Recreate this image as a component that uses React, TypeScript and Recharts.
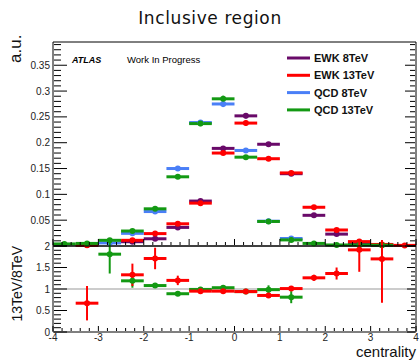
import React from "react";
import { ComposedChart, Scatter, ErrorBar, XAxis, YAxis, ReferenceLine } from "recharts";

// bins of width 0.5 between -4 and 4
const binCenters = [-3.75, -3.25, -2.75, -2.25, -1.75, -1.25, -0.75, -0.25, 0.25, 0.75, 1.25, 1.75, 2.25, 2.75, 3.25, 3.75];
const HALF_BIN = 0.25;

// normalised centrality distributions (a.u.), null = empty bin
const ewk8 = [null, 0.002, null, 0.0083, 0.014, 0.036, 0.087, 0.189, 0.252, 0.197, 0.14, 0.0594, 0.023, 0.0045, 0.0018, null];
const ewk8Err = [null, 0.001, null, 0.002, 0.002, 0.003, 0.003, 0.004, 0.005, 0.004, 0.003, 0.002, 0.002, 0.001, 0.001, null];
const ewk13 = [null, 0.0013, null, 0.011, 0.024, 0.043, 0.083, 0.18, 0.238, 0.169, 0.1415, 0.075, 0.031, 0.0085, 0.003, 0.0012];
const ewk13Err = [null, 0.001, null, 0.002, 0.002, 0.003, 0.003, 0.004, 0.005, 0.004, 0.003, 0.002, 0.002, 0.001, 0.001, 0.001];
const qcd8 = [null, null, 0.006, 0.0245, 0.0667, 0.15, 0.239, 0.275, 0.185, 0.048, 0.0145, null, null, null, null, null];
const qcd8Err = [null, null, 0.001, 0.002, 0.003, 0.004, 0.005, 0.006, 0.004, 0.002, 0.001, null, null, null, null, null];
const qcd13 = [0.004, 0.005, 0.011, 0.029, 0.072, 0.134, 0.237, 0.285, 0.172, 0.0475, 0.0118, 0.005, 0.002, 0.002, 0.0015, null];
const qcd13Err = [0.001, 0.001, 0.002, 0.003, 0.004, 0.004, 0.005, 0.006, 0.004, 0.002, 0.001, 0.001, 0.001, 0.001, 0.001, null];

// 13 TeV / 8 TeV ratios
const ewkRatio = [null, 0.67, null, 1.33, 1.71, 1.2, 0.95, 0.95, 0.94, 0.85, 1.01, 1.26, 1.36, 1.91, 1.7, null];
const ewkRatioErr = [null, 0.4, null, 0.26, 0.25, 0.11, 0.03, 0.03, 0.02, 0.04, 0.04, 0.07, 0.14, 0.51, 1.02, null];
const qcdRatio = [null, null, 1.81, 1.19, 1.08, 0.89, 0.99, 1.03, 0.94, 0.985, 0.81, null, null, null, null, null];
const qcdRatioErr = [null, null, 0.45, 0.16, 0.05, 0.02, 0.02, 0.02, 0.02, 0.1, 0.14, null, null, null, null, null];

const xTicks = Array.from({ length: 41 }, (_, i) => +(-4 + i * 0.2).toFixed(1));
const yTicks = Array.from({ length: 40 }, (_, i) => +(i * 0.01).toFixed(2));
const ratioTicks = Array.from({ length: 21 }, (_, i) => +(i * 0.1).toFixed(1));

const PURPLE = "#690a69";
const RED = "#ff0000";
const BLUE = "#4a7ff7";
const GREEN = "#139913";

const series = [
  { name: "EWK 8TeV", color: PURPLE, vals: ewk8, errs: ewk8Err },
  { name: "EWK 13TeV", color: RED, vals: ewk13, errs: ewk13Err },
  { name: "QCD 8TeV", color: BLUE, vals: qcd8, errs: qcd8Err },
  { name: "QCD 13TeV", color: GREEN, vals: qcd13, errs: qcd13Err },
];

const ratios = [
  { name: "QCD", color: GREEN, vals: qcdRatio, errs: qcdRatioErr },
  { name: "EWK", color: RED, vals: ewkRatio, errs: ewkRatioErr },
];

const FONT = "'Liberation Sans', Arial, sans-serif";

type Pt = { x: number; y: number; ex: number; ey: number };

function toPoints(vals: (number | null)[], errs: (number | null)[]): Pt[] {
  const out: Pt[] = [];
  vals.forEach((v, i) => {
    if (v != null) out.push({ x: binCenters[i], y: v, ex: HALF_BIN, ey: errs[i] ?? 0 });
  });
  return out;
}

const isMajor = (v: number, step: number) => Math.abs(v / step - Math.round(v / step)) < 1e-6;
const fmt = (v: number) => String(+v.toFixed(2));

// ROOT style ticks, drawn inwards from the frame. Axes are 1px wide, so
// p.x / p.y sit one pixel off the frame on the outer side.
function vTick(side: "left" | "right", step: number, major: number, minor: number, labels: boolean, zeroLabel = false) {
  return (p: any) => {
    const v = p.payload.value;
    const big = isMajor(v, step);
    const len = big ? major : minor;
    const x0 = side === "left" ? p.x + 1 : p.x - 1;
    const dir = side === "left" ? 1 : -1;
    const showLabel = labels && big && (v > 0 || zeroLabel);
    return (
      <g>
        <line x1={x0} x2={x0 + dir * len} y1={p.y} y2={p.y} stroke="#000" strokeWidth={1} />
        {showLabel && (
          <text x={x0 - 4} y={p.y + 3.5} textAnchor="end" fontSize={10} fontFamily={FONT} fill="#222" stroke="none">
            {fmt(v)}
          </text>
        )}
      </g>
    );
  };
}

function hTick(side: "top" | "bottom", major: number, minor: number, labels: boolean) {
  return (p: any) => {
    const v = p.payload.value;
    const big = isMajor(v, 1);
    const len = big ? major : minor;
    const y0 = side === "bottom" ? p.y - 1 : p.y + 1;
    const dir = side === "bottom" ? -1 : 1;
    return (
      <g>
        <line x1={p.x} x2={p.x} y1={y0} y2={y0 + dir * len} stroke="#000" strokeWidth={1} />
        {labels && big && (
          <text x={p.x} y={y0 + 10} textAnchor="middle" fontSize={10} fontFamily={FONT} fill="#222" stroke="none">
            {fmt(v)}
          </text>
        )}
      </g>
    );
  };
}

const dot = (color: string) => (p: any) => <circle cx={p.cx} cy={p.cy} r={3} fill={color} />;

const axisCommon = {
  type: "number" as const,
  interval: 0 as const,
  tickSize: 0,
  tickMargin: 0,
  tickLine: false,
  axisLine: { stroke: "#000", strokeWidth: 1 },
};

export default function App() {
  return (
    <div style={{ position: "absolute", left: 0, top: 0, width: 420, height: 360, background: "#fff" }}>
      {/* distributions */}
      <div style={{ position: "absolute", left: 0, top: 0 }}>
        <ComposedChart width={420} height={251} margin={{ top: 41, right: 3, bottom: 4, left: 52 }}>
          <XAxis {...axisCommon} xAxisId={0} dataKey="x" domain={[-4, 4]} ticks={xTicks} height={1} tick={hTick("bottom", 6, 3, false)} />
          <XAxis {...axisCommon} xAxisId="top" orientation="top" domain={[-4, 4]} allowDataOverflow ticks={xTicks} height={1} tick={hTick("top", 6, 3, false)} />
          <YAxis {...axisCommon} yAxisId={0} dataKey="y" domain={[0, 0.395]} ticks={yTicks} width={1} tick={vTick("left", 0.05, 13, 7, true)} />
          <YAxis {...axisCommon} yAxisId="r" orientation="right" domain={[0, 0.395]} allowDataOverflow ticks={yTicks} width={1} tick={vTick("right", 0.05, 10, 5, false)} />
          {series.map((s) => (
            <Scatter
              key={s.name}
              name={s.name}
              data={toPoints(s.vals, s.errs)}
              fill={s.color}
              shape={dot(s.color)}
              isAnimationActive={false}
            >
              <ErrorBar dataKey="ex" direction="x" width={0} stroke={s.color} strokeWidth={3} />
              <ErrorBar dataKey="ey" direction="y" width={0} stroke={s.color} strokeWidth={2} />
            </Scatter>
          ))}
        </ComposedChart>
      </div>

      {/* ratio panel */}
      <div style={{ position: "absolute", left: 0, top: 240 }}>
        <ComposedChart width={420} height={120} margin={{ top: 5, right: 3, bottom: 8, left: 52 }}>
          <XAxis {...axisCommon} xAxisId={0} dataKey="x" domain={[-4, 4]} ticks={xTicks} height={20} tick={hTick("bottom", 5, 3, true)} />
          <XAxis {...axisCommon} xAxisId="top" orientation="top" domain={[-4, 4]} allowDataOverflow ticks={xTicks} height={1} tick={hTick("top", 5, 3, false)} />
          <YAxis {...axisCommon} yAxisId={0} dataKey="y" domain={[0, 2]} allowDataOverflow ticks={ratioTicks} width={1} tick={vTick("left", 0.5, 13, 7, true, true)} />
          <YAxis {...axisCommon} yAxisId="r" orientation="right" domain={[0, 2]} allowDataOverflow ticks={ratioTicks} width={1} tick={vTick("right", 0.5, 8, 4, false)} />
          <ReferenceLine y={1} stroke="#999" strokeWidth={1} />
          {ratios.map((s) => (
            <Scatter
              key={s.name}
              name={s.name}
              data={toPoints(s.vals, s.errs)}
              fill={s.color}
              shape={dot(s.color)}
              isAnimationActive={false}
            >
              <ErrorBar dataKey="ex" direction="x" width={0} stroke={s.color} strokeWidth={3} />
              <ErrorBar dataKey="ey" direction="y" width={0} stroke={s.color} strokeWidth={2} />
            </Scatter>
          ))}
        </ComposedChart>
      </div>

      {/* titles, labels and legend */}
      <svg width={420} height={360} style={{ position: "absolute", left: 0, top: 0, pointerEvents: "none" }}>
        <text x={210} y={24} textAnchor="middle" fontSize={17} letterSpacing={0.6} fontFamily="'DejaVu Sans', sans-serif" fill="#111">
          Inclusive region
        </text>
        <text transform="translate(21,63) rotate(-90)" textAnchor="start" fontSize={17} fontFamily={FONT} fill="#111">
          a.u.
        </text>
        <text transform="translate(22,246) rotate(-90)" textAnchor="end" fontSize={14} fontFamily={FONT} fill="#111">
          13TeV/8TeV
        </text>
        <text x={416} y={357} textAnchor="end" fontSize={15} fontFamily={FONT} fill="#111">
          centrality
        </text>
        <text x={72} y={62.5} fontSize={9} fontWeight="bold" fontStyle="italic" fontFamily={FONT} fill="#000">
          ATLAS
        </text>
        <text x={127} y={62.5} fontSize={9.5} fontFamily={FONT} fill="#000">
          Work In Progress
        </text>
        {series.map((s, i) => {
          const cy = 58 + i * 17.3;
          return (
            <g key={s.name}>
              <line x1={287} x2={310} y1={cy} y2={cy} stroke={s.color} strokeWidth={3} />
              <text x={314} y={cy + 4} fontSize={11} fontWeight="bold" fontFamily={FONT} fill="#111">
                {s.name}
              </text>
            </g>
          );
        })}
      </svg>
    </div>
  );
}
